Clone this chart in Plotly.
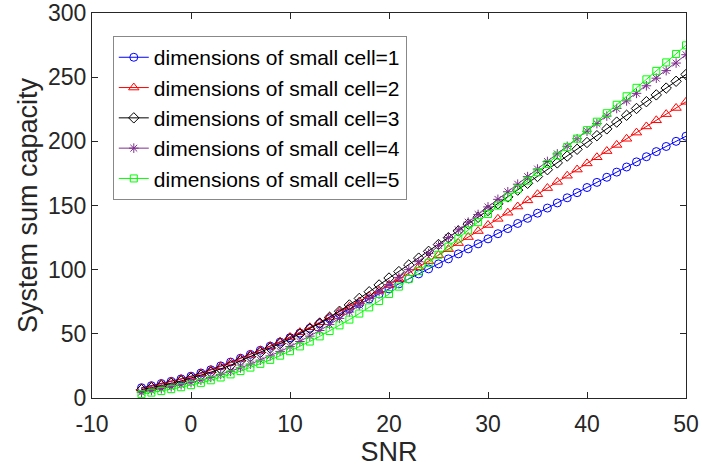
import plotly.graph_objects as go

snr = list(range(-5, 51))

cap_1 = [8.0, 9.6, 11.3, 13.0, 14.9, 17.0, 19.5, 22.0, 25.0, 28.0, 31.0, 34.0, 37.2, 40.4, 43.6,
         47.0, 50.6, 54.3, 58.0, 61.8, 65.6, 69.4, 73.2, 77.1, 81.0, 85.0, 88.9, 92.8, 96.7, 100.6,
         104.5, 108.4, 112.3, 116.2, 120.1, 124.0, 128.0, 132.0, 136.0, 140.0, 144.0, 148.0, 152.0,
         156.0, 160.0, 164.0, 168.0, 172.0, 176.0, 180.0, 184.0, 188.0, 192.0, 196.0, 200.0, 204.0]

cap_2 = [7.5, 9.2, 11.0, 12.8, 14.6, 16.6, 19.1, 21.7, 24.6, 27.6, 30.7, 33.8, 37.1, 40.4, 43.9,
         47.5, 51.3, 55.1, 59.0, 63.0, 67.0, 71.1, 75.2, 79.4, 83.6, 88.0, 92.6, 97.2, 101.9, 106.6,
         111.3, 116.0, 120.7, 125.4, 130.1, 134.8, 139.6, 144.4, 149.2, 154.0, 158.8, 163.6, 168.4,
         173.2, 178.0, 182.8, 187.6, 192.4, 197.2, 202.0, 206.8, 211.6, 216.4, 221.2, 226.0, 230.8]

cap_3 = [6.5, 8.0, 9.6, 11.4, 13.3, 15.4, 17.7, 20.1, 22.7, 25.4, 29.0, 32.2, 35.5, 38.9, 42.4,
         46.0, 49.9, 54.0, 58.3, 62.9, 67.6, 72.5, 77.6, 82.8, 88.1, 93.5, 98.5, 103.7, 109.0, 114.3,
         119.6, 124.9, 130.2, 135.5, 140.8, 146.1, 151.4, 156.7, 162.0, 167.3, 172.6, 177.9, 183.2,
         188.5, 193.8, 199.1, 204.4, 209.7, 215.0, 220.3, 225.6, 230.9, 236.2, 241.5, 246.8, 252.1]

cap_4 = [4.5, 5.8, 7.2, 8.7, 10.3, 12.0, 13.9, 16.0, 18.3, 20.8, 23.5, 26.4, 29.5, 32.8, 36.3,
         40.0, 44.0, 48.2, 52.6, 57.2, 62.0, 67.0, 72.2, 77.5, 82.9, 88.4, 94.0, 100.0, 106.2, 112.6,
         118.9, 125.0, 131.0, 137.0, 143.0, 148.9, 154.8, 160.7, 166.6, 172.5, 178.4, 184.3, 190.2,
         196.1, 202.0, 207.9, 213.8, 219.7, 225.6, 231.5, 237.4, 243.3, 249.2, 255.1, 261.0, 267.5]

cap_5 = [3.0, 4.2, 5.5, 6.9, 8.4, 10.0, 11.8, 13.8, 16.0, 18.4, 21.0, 23.7, 26.6, 29.7, 33.0,
         36.5, 40.2, 44.0, 48.0, 52.2, 56.6, 61.1, 65.8, 70.6, 75.6, 81.0, 86.8, 92.8, 99.0, 105.3,
         111.6, 117.9, 124.2, 130.6, 137.0, 143.4, 149.9, 156.4, 162.9, 169.4, 175.9, 182.4, 188.9,
         195.5, 202.1, 208.7, 215.3, 221.9, 228.5, 235.1, 241.7, 248.3, 254.9, 261.5, 268.1, 274.8]

names = ["dimensions of small cell=1", "dimensions of small cell=2", "dimensions of small cell=3",
         "dimensions of small cell=4", "dimensions of small cell=5"]
series = [cap_1, cap_2, cap_3, cap_4, cap_5]

x_ticks = [-10, 0, 10, 20, 30, 40, 50]
x_tick_text = ["-10", "0", "10", "20", "30", "40", "50"]
y_ticks = [0, 50, 100, 150, 200, 250, 300]
y_tick_text = ["0", "50", "100", "150", "200", "250", "300"]

colors = ["#0000FF", "#FF0000", "#000000", "#7E2F8E", "#00FF00"]
symbols = ["circle-open", "triangle-up-open", "diamond-open", "asterisk-open", "square-open"]
sizes = [8, 9, 8, 8, 7]

FONT = "Liberation Sans, Arial, Helvetica, sans-serif"

fig = go.Figure()
for i, (nm, ys) in enumerate(zip(names, series)):
    fig.add_trace(go.Scatter(
        x=snr, y=ys, name=nm, mode="lines+markers", legendgroup=str(i),
        line=dict(color=colors[i], width=1),
        marker=dict(symbol=symbols[i], size=sizes[i], color=colors[i],
                    line=dict(color=colors[i], width=1)),
    ))

axis_common = dict(
    showgrid=False, zeroline=False, showline=True, linecolor="#262626", linewidth=1,
    mirror="ticks", ticks="inside", ticklen=6, tickcolor="#262626", automargin=False,
    ticklabeloverflow="allow",
    tickfont=dict(family=FONT, size=23, color="#262626"),
)

fig.update_layout(
    width=701, height=474,
    margin=dict(l=92, r=15, t=13, b=76),
    paper_bgcolor="white", plot_bgcolor="white",
    font=dict(family=FONT, color="#262626"),
    xaxis=dict(range=[-10, 50], tickvals=x_ticks, ticktext=x_tick_text, ticklabelstandoff=5,
               title=dict(text="SNR", font=dict(size=27), standoff=6), **axis_common),
    yaxis=dict(range=[0, 300], tickvals=y_ticks, ticktext=y_tick_text,
               title=dict(text="System sum capacity", font=dict(size=27), standoff=2), **axis_common),
    legend=dict(x=0.035, y=0.94, xanchor="left", yanchor="top",
                bgcolor="white", bordercolor="#888888", borderwidth=1,
                font=dict(family=FONT, size=21, color="#000000"),
                traceorder="grouped", tracegroupgap=0, itemwidth=30),
    showlegend=True,
)

fig.write_html("out.html")
